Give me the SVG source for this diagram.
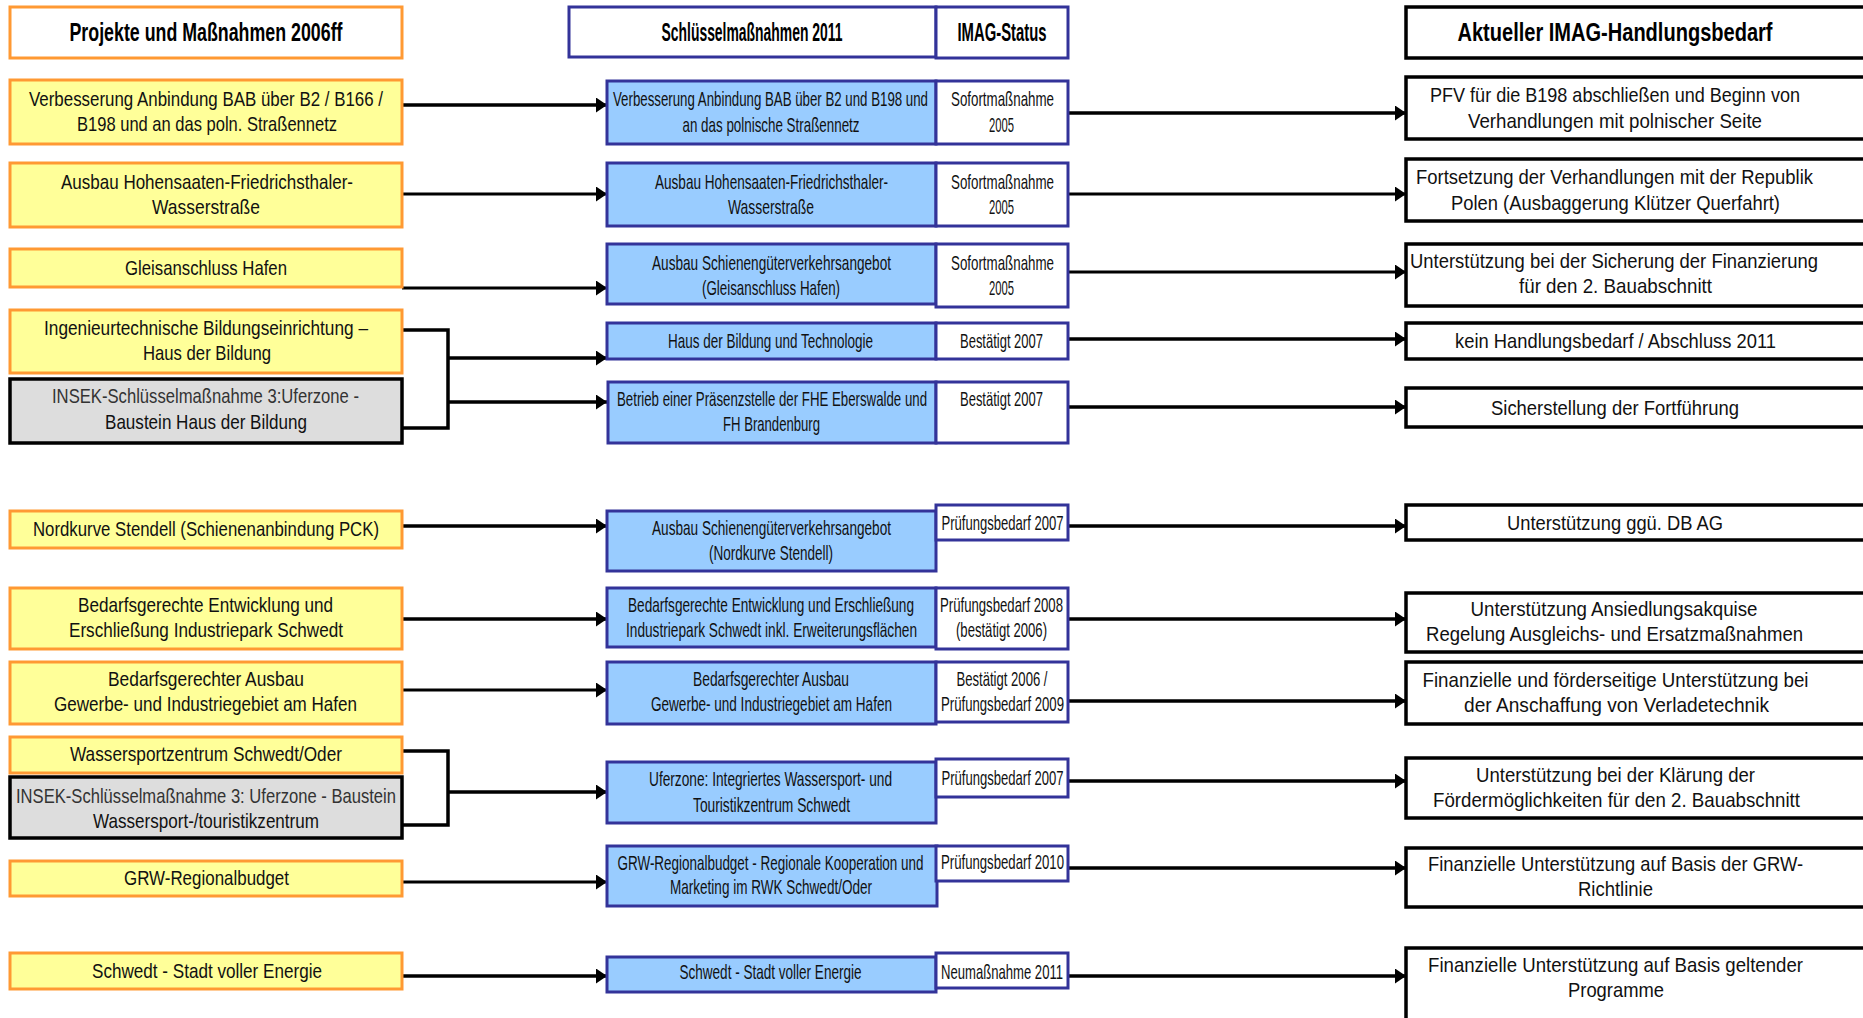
<svg xmlns="http://www.w3.org/2000/svg" width="1863" height="1018" viewBox="0 0 1863 1018">
<style>
.t{font-family:"Liberation Sans Narrow","Liberation Sans",Arial,sans-serif;font-size:21px;fill:#111;text-anchor:middle}
.h{font-family:"Liberation Sans Narrow","Liberation Sans",Arial,sans-serif;font-size:25px;font-weight:bold;fill:#000;text-anchor:middle}
.or{fill:#FFFF99;stroke:#FF9933;stroke-width:3}
.ow{fill:#FFFFFF;stroke:#FF9933;stroke-width:3}
.gr{fill:#DDDDDD;stroke:#000;stroke-width:3.5}
.bl{fill:#99CCFF;stroke:#333399;stroke-width:3}
.st{fill:#FFFFFF;stroke:#333399;stroke-width:3}
.bk{fill:#FFFFFF;stroke:#000;stroke-width:3.5}
.c{fill:none;stroke:#000;stroke-width:3.5}
</style>
<defs>
<marker id="ah" viewBox="0 0 11 15" markerUnits="userSpaceOnUse" markerWidth="11" markerHeight="15" refX="11" refY="7.5" orient="auto">
<path d="M0,0 L11,7.5 L0,15 z" fill="#000"/>
</marker>
</defs>
<rect width="1863" height="1018" fill="#FFFFFF"/>

<g id="connectors">
<path class="c" d="M402,105 H607" marker-end="url(#ah)"/>
<path class="c" d="M402,194 H607" marker-end="url(#ah)" style="stroke-width:3"/>
<path class="c" d="M402,288 H607" marker-end="url(#ah)" style="stroke-width:3"/>
<path class="c" d="M402,330 H448 V428 H402"/>
<path class="c" d="M448,358 H607" marker-end="url(#ah)"/>
<path class="c" d="M448,402 H607" marker-end="url(#ah)"/>
<path class="c" d="M402,526 H607" marker-end="url(#ah)"/>
<path class="c" d="M402,619 H607" marker-end="url(#ah)"/>
<path class="c" d="M402,690 H607" marker-end="url(#ah)" style="stroke-width:3"/>
<path class="c" d="M402,751 H448 V825 H402"/>
<path class="c" d="M448,792 H607" marker-end="url(#ah)"/>
<path class="c" d="M402,882 H607" marker-end="url(#ah)" style="stroke-width:3"/>
<path class="c" d="M402,976 H607" marker-end="url(#ah)"/>
<path class="c" d="M1068,113 H1406" marker-end="url(#ah)"/>
<path class="c" d="M1068,194 H1406" marker-end="url(#ah)" style="stroke-width:3"/>
<path class="c" d="M1068,272 H1406" marker-end="url(#ah)" style="stroke-width:3"/>
<path class="c" d="M1068,339 H1406" marker-end="url(#ah)"/>
<path class="c" d="M1068,407 H1406" marker-end="url(#ah)"/>
<path class="c" d="M1068,526 H1406" marker-end="url(#ah)"/>
<path class="c" d="M1068,619 H1406" marker-end="url(#ah)"/>
<path class="c" d="M1068,701 H1406" marker-end="url(#ah)"/>
<path class="c" d="M1068,781 H1406" marker-end="url(#ah)"/>
<path class="c" d="M1068,868 H1406" marker-end="url(#ah)"/>
<path class="c" d="M1068,976 H1406" marker-end="url(#ah)"/>
</g>

<!-- headers -->
<g id="hdr-left"><rect class="ow" x="10" y="7" width="392" height="51"/><text class="h" x="206" y="41" textLength="273" lengthAdjust="spacingAndGlyphs">Projekte und Maßnahmen 2006ff</text></g>
<g id="hdr-mid"><rect class="st" x="569" y="7" width="367" height="50"/><text class="h" x="752" y="41" textLength="181" lengthAdjust="spacingAndGlyphs">Schlüsselmaßnahmen 2011</text></g>
<g id="hdr-status"><rect class="st" x="936" y="7" width="132" height="51"/><text class="h" x="1002" y="41" textLength="89" lengthAdjust="spacingAndGlyphs">IMAG-Status</text></g>
<g id="hdr-right"><rect class="bk" x="1406" y="7" width="470" height="51"/><text class="h" x="1615" y="41" textLength="315" lengthAdjust="spacingAndGlyphs">Aktueller IMAG-Handlungsbedarf</text></g>

<!-- left column -->
<g id="l1"><rect class="or" x="10" y="80" width="392" height="64"/><text class="t" x="206" y="106" textLength="354" lengthAdjust="spacingAndGlyphs">Verbesserung Anbindung BAB  über B2 / B166 /</text><text class="t" x="207" y="131" textLength="260" lengthAdjust="spacingAndGlyphs">B198 und an das poln. Straßennetz</text></g>
<g id="l2"><rect class="or" x="10" y="163" width="392" height="64"/><text class="t" x="207" y="189" textLength="292" lengthAdjust="spacingAndGlyphs">Ausbau Hohensaaten-Friedrichsthaler-</text><text class="t" x="206" y="214" textLength="108" lengthAdjust="spacingAndGlyphs">Wasserstraße</text></g>
<g id="l3"><rect class="or" x="10" y="249" width="392" height="38"/><text class="t" x="206" y="275" textLength="162" lengthAdjust="spacingAndGlyphs">Gleisanschluss Hafen</text></g>
<g id="l4"><rect class="or" x="10" y="310" width="392" height="63"/><text class="t" x="206" y="335" textLength="324" lengthAdjust="spacingAndGlyphs">Ingenieurtechnische Bildungseinrichtung –</text><text class="t" x="207" y="360" textLength="128" lengthAdjust="spacingAndGlyphs">Haus der Bildung</text></g>
<g id="l5"><rect class="gr" x="10" y="379" width="392" height="64"/><text class="t" x="205.5" y="403" textLength="307" lengthAdjust="spacingAndGlyphs" style="fill:#333">INSEK-Schlüsselmaßnahme 3:Uferzone -</text><text class="t" x="206" y="429" textLength="202" lengthAdjust="spacingAndGlyphs">Baustein  Haus der Bildung</text></g>
<g id="l6"><rect class="or" x="10" y="511" width="392" height="37"/><text class="t" x="206" y="536" textLength="346" lengthAdjust="spacingAndGlyphs">Nordkurve Stendell (Schienenanbindung PCK)</text></g>
<g id="l7"><rect class="or" x="10" y="588" width="392" height="61"/><text class="t" x="205.5" y="612" textLength="255" lengthAdjust="spacingAndGlyphs">Bedarfsgerechte Entwicklung und</text><text class="t" x="206" y="637" textLength="274" lengthAdjust="spacingAndGlyphs">Erschließung Industriepark Schwedt</text></g>
<g id="l8"><rect class="or" x="10" y="662" width="392" height="62"/><text class="t" x="206" y="686" textLength="196" lengthAdjust="spacingAndGlyphs">Bedarfsgerechter Ausbau</text><text class="t" x="205.5" y="711" textLength="303" lengthAdjust="spacingAndGlyphs">Gewerbe- und Industriegebiet am Hafen</text></g>
<g id="l9"><rect class="or" x="10" y="737" width="392" height="36"/><text class="t" x="206" y="761" textLength="272" lengthAdjust="spacingAndGlyphs">Wassersportzentrum Schwedt/Oder</text></g>
<g id="l10"><rect class="gr" x="10" y="777" width="392" height="61"/><text class="t" x="206" y="803" textLength="380" lengthAdjust="spacingAndGlyphs" style="fill:#333">INSEK-Schlüsselmaßnahme 3: Uferzone - Baustein</text><text class="t" x="206" y="828" textLength="226" lengthAdjust="spacingAndGlyphs">Wassersport-/touristikzentrum</text></g>
<g id="l11"><rect class="or" x="10" y="861" width="392" height="35"/><text class="t" x="206.5" y="885" textLength="165" lengthAdjust="spacingAndGlyphs">GRW-Regionalbudget</text></g>
<g id="l12"><rect class="or" x="10" y="953" width="392" height="36"/><text class="t" x="207" y="978" textLength="230" lengthAdjust="spacingAndGlyphs">Schwedt - Stadt voller Energie</text></g>

<!-- middle column -->
<g id="m1"><rect class="bl" x="607" y="81" width="329" height="63"/><text class="t" x="770.5" y="106" textLength="315" lengthAdjust="spacingAndGlyphs">Verbesserung Anbindung BAB über B2 und B198 und</text><text class="t" x="771" y="132" textLength="177" lengthAdjust="spacingAndGlyphs">an das polnische Straßennetz</text></g>
<g id="m2"><rect class="bl" x="607" y="163" width="329" height="63"/><text class="t" x="771.5" y="189" textLength="233" lengthAdjust="spacingAndGlyphs">Ausbau Hohensaaten-Friedrichsthaler-</text><text class="t" x="771" y="214" textLength="86" lengthAdjust="spacingAndGlyphs">Wasserstraße</text></g>
<g id="m3"><rect class="bl" x="607" y="244" width="329" height="60"/><text class="t" x="771.5" y="270" textLength="239" lengthAdjust="spacingAndGlyphs">Ausbau Schienengüterverkehrsangebot</text><text class="t" x="771" y="295" textLength="138" lengthAdjust="spacingAndGlyphs">(Gleisanschluss Hafen)</text></g>
<g id="m4"><rect class="bl" x="607" y="323" width="329" height="36"/><text class="t" x="770.5" y="348" textLength="205" lengthAdjust="spacingAndGlyphs">Haus der Bildung und Technologie</text></g>
<g id="m5"><rect class="bl" x="608" y="382" width="328" height="61"/><text class="t" x="772" y="406" textLength="310" lengthAdjust="spacingAndGlyphs">Betrieb einer Präsenzstelle der FHE Eberswalde und</text><text class="t" x="771.5" y="431" textLength="97" lengthAdjust="spacingAndGlyphs">FH Brandenburg</text></g>
<g id="m6"><rect class="bl" x="607" y="511" width="329" height="60"/><text class="t" x="771.5" y="535" textLength="239" lengthAdjust="spacingAndGlyphs">Ausbau Schienengüterverkehrsangebot</text><text class="t" x="771" y="560" textLength="124" lengthAdjust="spacingAndGlyphs">(Nordkurve  Stendell)</text></g>
<g id="m7"><rect class="bl" x="607" y="588" width="329" height="59"/><text class="t" x="771" y="612" textLength="286" lengthAdjust="spacingAndGlyphs">Bedarfsgerechte Entwicklung und Erschließung</text><text class="t" x="771.5" y="637" textLength="291" lengthAdjust="spacingAndGlyphs">Industriepark Schwedt inkl. Erweiterungsflächen</text></g>
<g id="m8"><rect class="bl" x="607" y="662" width="329" height="62"/><text class="t" x="771" y="686" textLength="156" lengthAdjust="spacingAndGlyphs">Bedarfsgerechter Ausbau</text><text class="t" x="771.5" y="711" textLength="241" lengthAdjust="spacingAndGlyphs">Gewerbe- und Industriegebiet am Hafen</text></g>
<g id="m9"><rect class="bl" x="607" y="762" width="329" height="61"/><text class="t" x="770.5" y="786" textLength="243" lengthAdjust="spacingAndGlyphs">Uferzone:  Integriertes Wassersport- und</text><text class="t" x="771.5" y="812" textLength="157" lengthAdjust="spacingAndGlyphs">Touristikzentrum  Schwedt</text></g>
<g id="m10"><rect class="bl" x="607" y="846" width="330" height="60"/><text class="t" x="770.5" y="870" textLength="306" lengthAdjust="spacingAndGlyphs">GRW-Regionalbudget  - Regionale Kooperation und</text><text class="t" x="771" y="894" textLength="202" lengthAdjust="spacingAndGlyphs">Marketing im RWK Schwedt/Oder</text></g>
<g id="m11"><rect class="bl" x="607" y="957" width="329" height="35"/><text class="t" x="770.5" y="979" textLength="182" lengthAdjust="spacingAndGlyphs">Schwedt - Stadt voller Energie</text></g>

<!-- status column -->
<g id="s1"><rect class="st" x="936" y="81" width="132" height="63"/><text class="t" x="1002.5" y="106" textLength="103" lengthAdjust="spacingAndGlyphs">Sofortmaßnahme</text><text class="t" x="1001.5" y="132" textLength="25" lengthAdjust="spacingAndGlyphs">2005</text></g>
<g id="s2"><rect class="st" x="936" y="163" width="132" height="63"/><text class="t" x="1002.5" y="189" textLength="103" lengthAdjust="spacingAndGlyphs">Sofortmaßnahme</text><text class="t" x="1001.5" y="214" textLength="25" lengthAdjust="spacingAndGlyphs">2005</text></g>
<g id="s3"><rect class="st" x="936" y="244" width="132" height="63"/><text class="t" x="1002.5" y="270" textLength="103" lengthAdjust="spacingAndGlyphs">Sofortmaßnahme</text><text class="t" x="1001.5" y="295" textLength="25" lengthAdjust="spacingAndGlyphs">2005</text></g>
<g id="s4"><rect class="st" x="936" y="323" width="132" height="36"/><text class="t" x="1001.5" y="348" textLength="83" lengthAdjust="spacingAndGlyphs">Bestätigt 2007</text></g>
<g id="s5"><rect class="st" x="936" y="382" width="132" height="61"/><text class="t" x="1001.5" y="406" textLength="83" lengthAdjust="spacingAndGlyphs">Bestätigt 2007</text></g>
<g id="s6"><rect class="st" x="936" y="505" width="132" height="35"/><text class="t" x="1002.5" y="530" textLength="122" lengthAdjust="spacingAndGlyphs">Prüfungsbedarf 2007</text></g>
<g id="s7"><rect class="st" x="936" y="588" width="132" height="61"/><text class="t" x="1001.5" y="612" textLength="123" lengthAdjust="spacingAndGlyphs">Prüfungsbedarf 2008</text><text class="t" x="1001.5" y="637" textLength="91" lengthAdjust="spacingAndGlyphs">(bestätigt 2006)</text></g>
<g id="s8"><rect class="st" x="936" y="662" width="132" height="60"/><text class="t" x="1002" y="686" textLength="91" lengthAdjust="spacingAndGlyphs">Bestätigt 2006 /</text><text class="t" x="1002.5" y="711" textLength="123" lengthAdjust="spacingAndGlyphs">Prüfungsbedarf 2009</text></g>
<g id="s9"><rect class="st" x="936" y="759" width="132" height="38"/><text class="t" x="1002.5" y="785" textLength="122" lengthAdjust="spacingAndGlyphs">Prüfungsbedarf 2007</text></g>
<g id="s10"><rect class="st" x="936" y="846" width="132" height="35"/><text class="t" x="1002.5" y="869" textLength="123" lengthAdjust="spacingAndGlyphs">Prüfungsbedarf 2010</text></g>
<g id="s11"><rect class="st" x="936" y="953" width="132" height="35"/><text class="t" x="1002" y="979" textLength="122" lengthAdjust="spacingAndGlyphs">Neumaßnahme 2011</text></g>

<!-- right column -->
<g id="r1"><rect class="bk" x="1406" y="77" width="470" height="62"/><text class="t" x="1615" y="102" textLength="370" lengthAdjust="spacingAndGlyphs">PFV für die B198 abschließen und Beginn von</text><text class="t" x="1615" y="128" textLength="294" lengthAdjust="spacingAndGlyphs">Verhandlungen mit polnischer Seite</text></g>
<g id="r2"><rect class="bk" x="1406" y="159" width="470" height="62"/><text class="t" x="1614.5" y="184" textLength="397" lengthAdjust="spacingAndGlyphs">Fortsetzung  der Verhandlungen mit der Republik</text><text class="t" x="1615.5" y="210" textLength="329" lengthAdjust="spacingAndGlyphs">Polen (Ausbaggerung Klützer Querfahrt)</text></g>
<g id="r3"><rect class="bk" x="1406" y="244" width="470" height="62"/><text class="t" x="1614" y="268" textLength="408" lengthAdjust="spacingAndGlyphs">Unterstützung  bei der Sicherung der Finanzierung</text><text class="t" x="1615.5" y="293" textLength="193" lengthAdjust="spacingAndGlyphs">für den 2. Bauabschnitt</text></g>
<g id="r4"><rect class="bk" x="1406" y="323" width="470" height="36"/><text class="t" x="1615.5" y="348" textLength="321" lengthAdjust="spacingAndGlyphs">kein Handlungsbedarf / Abschluss 2011</text></g>
<g id="r5"><rect class="bk" x="1406" y="388" width="470" height="39"/><text class="t" x="1615" y="415" textLength="248" lengthAdjust="spacingAndGlyphs">Sicherstellung der Fortführung</text></g>
<g id="r6"><rect class="bk" x="1406" y="505" width="470" height="35"/><text class="t" x="1615" y="530" textLength="216" lengthAdjust="spacingAndGlyphs">Unterstützung  ggü. DB AG</text></g>
<g id="r7"><rect class="bk" x="1406" y="593" width="470" height="59"/><text class="t" x="1614" y="616" textLength="287" lengthAdjust="spacingAndGlyphs">Unterstützung Ansiedlungsakquise</text><text class="t" x="1614.5" y="641" textLength="377" lengthAdjust="spacingAndGlyphs">Regelung Ausgleichs- und Ersatzmaßnahmen</text></g>
<g id="r8"><rect class="bk" x="1406" y="662" width="470" height="62"/><text class="t" x="1615.5" y="687" textLength="386" lengthAdjust="spacingAndGlyphs">Finanzielle und förderseitige Unterstützung bei</text><text class="t" x="1616.5" y="712" textLength="305" lengthAdjust="spacingAndGlyphs">der Anschaffung von Verladetechnik</text></g>
<g id="r9"><rect class="bk" x="1406" y="758" width="470" height="60"/><text class="t" x="1615.5" y="782" textLength="279" lengthAdjust="spacingAndGlyphs">Unterstützung bei der Klärung der</text><text class="t" x="1616.5" y="807" textLength="367" lengthAdjust="spacingAndGlyphs">Fördermöglichkeiten für den 2. Bauabschnitt</text></g>
<g id="r10"><rect class="bk" x="1406" y="848" width="470" height="59"/><text class="t" x="1615.5" y="871" textLength="375" lengthAdjust="spacingAndGlyphs">Finanzielle Unterstützung  auf Basis der GRW-</text><text class="t" x="1615.5" y="896" textLength="75" lengthAdjust="spacingAndGlyphs">Richtlinie</text></g>
<g id="r11"><rect class="bk" x="1406" y="948" width="470" height="80"/><text class="t" x="1615.5" y="972" textLength="375" lengthAdjust="spacingAndGlyphs">Finanzielle Unterstützung  auf Basis geltender</text><text class="t" x="1616" y="997" textLength="96" lengthAdjust="spacingAndGlyphs">Programme</text></g>
</svg>
